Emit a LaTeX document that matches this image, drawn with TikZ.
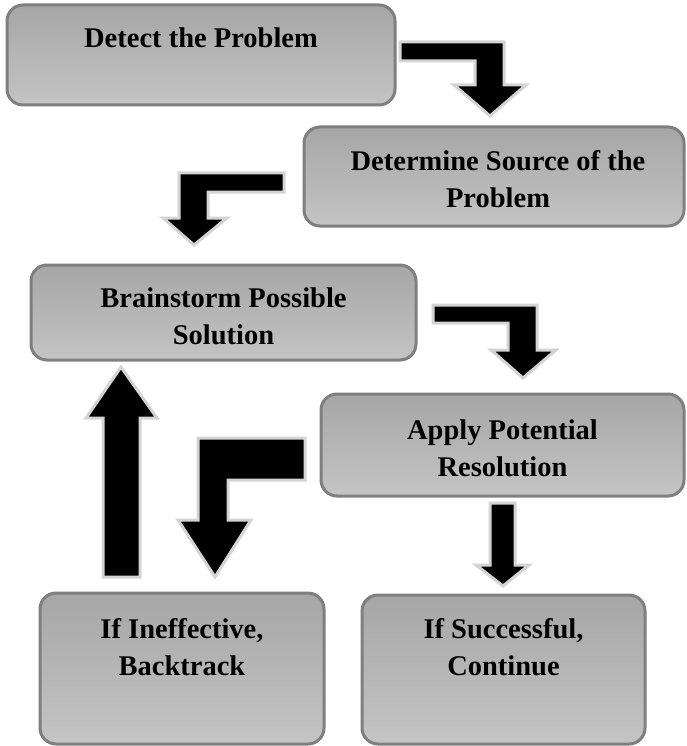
\documentclass[tikz,border=0pt]{standalone}
\usepackage{fontspec}
\setmainfont{Liberation Serif}
\begin{document}
\begin{tikzpicture}[x=1pt,y=-1pt,
  stepbox/.style={draw=boxedge, line width=3pt, rounded corners=16pt,
    top color=boxtop, bottom color=boxbot, inner sep=0pt, outer sep=0pt},
  boxtext/.style={anchor=base, inner sep=0pt,
    font=\fontsize{28.5}{37}\selectfont\bfseries},
  blockarrow/.style={fill=black, draw=arrowedge, line width=3pt, line join=miter}]
\definecolor{boxedge}{HTML}{7F7F7F}
\definecolor{boxtop}{HTML}{A6A6A6}
\definecolor{boxbot}{HTML}{C4C4C4}
\definecolor{arrowedge}{HTML}{D4D4D4}
\useasboundingbox[fill=white] (0,0) rectangle (686,746);
% boxes
\node[stepbox, minimum width=388pt, minimum height=100pt] (b1) at (201,55) {};
\node[stepbox, minimum width=380pt, minimum height=99pt] (b2) at (494,176.5) {};
\node[stepbox, minimum width=385pt, minimum height=95pt] (b3) at (223.5,312.5) {};
\node[stepbox, minimum width=363pt, minimum height=102pt] (b4) at (502.5,445) {};
\node[stepbox, minimum width=284pt, minimum height=151pt] (b5) at (182,668.5) {};
\node[stepbox, minimum width=283pt, minimum height=149pt] (b6) at (503.5,669.5) {};
% texts
\newcommand{\twolines}[2]{\begin{tabular}[t]{@{}c@{}}#1\\#2\end{tabular}}
\node[boxtext] (t1) at (201,48) {Detect the Problem};
\node[boxtext] (t2) at (498,171) {\twolines{Determine Source of the}{Problem}};
\node[boxtext] (t3) at (223.5,307) {\twolines{Brainstorm Possible}{Solution}};
\node[boxtext] (t4) at (502.5,439) {\twolines{Apply Potential}{Resolution}};
\node[boxtext] (t5) at (182,638) {\twolines{If Ineffective,}{Backtrack}};
\node[boxtext] (t6) at (503.5,638) {\twolines{If Successful,}{Continue}};
% block arrows
\draw[blockarrow] (400,42) -- (504,42) -- (504,85) -- (526,85) -- (490,116)
  -- (454,85) -- (475,85) -- (475,61) -- (400,61) -- cycle;
\draw[blockarrow] (284,173) -- (179,173) -- (179,218) -- (163,218) -- (194,245)
  -- (227,218) -- (208,218) -- (208,192) -- (284,192) -- cycle;
\draw[blockarrow] (433,305) -- (537,305) -- (537,350) -- (556,350) -- (523,378)
  -- (491,350) -- (508,350) -- (508,323) -- (433,323) -- cycle;
\draw[blockarrow] (305,438) -- (198,438) -- (198,520) -- (178,520) -- (215,577)
  -- (251,520) -- (228,520) -- (228,480) -- (305,480) -- cycle;
\draw[blockarrow] (103,577) -- (103,418) -- (86,418) -- (121,367) -- (157,418)
  -- (140,418) -- (140,577) -- cycle;
\draw[blockarrow] (490,503) -- (515,503) -- (515,565) -- (529,565) -- (503,586)
  -- (476,565) -- (490,565) -- cycle;
\end{tikzpicture}
\end{document}
